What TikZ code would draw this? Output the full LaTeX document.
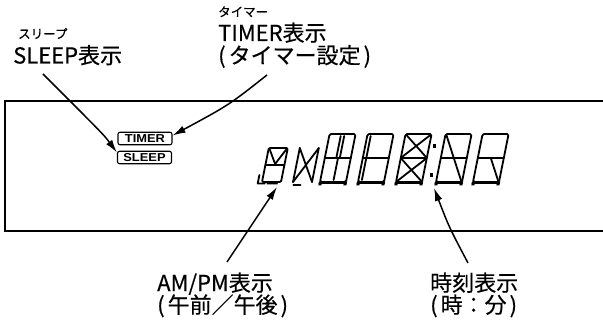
\documentclass[tikz,border=0pt]{standalone}
\usepackage{fontspec}
\setmainfont{Noto Sans CJK JP}[FakeBold=0.4]
\newfontfamily\badgefont{Liberation Sans}
\usetikzlibrary{arrows.meta}
\tikzset{
  bigframe/.pic={
    \draw[seg, rounded corners=1.5pt] (0,0) -- (0,-48) -- (26,-48) -- (26,0) -- cycle;
    \draw[seg] (0,-24) -- (26,-24);
    \fill (-1,-0.5) -- (27,-0.5) -- (27,2) -- (-1,2) -- cycle;
    \fill (-1,0) -- (2,0) -- (2,3.5) -- (-1,3.5) -- cycle;
    \fill (24,0) -- (27,0) -- (27,3.5) -- (24,3.5) -- cycle;
  },
}
\begin{document}
\begin{tikzpicture}[x=1pt,y=-1pt,
  lbl/.style={anchor=base west, inner sep=0pt, font=\fontsize{22}{24}\selectfont},
  ruby/.style={anchor=base west, inner sep=0pt, font=\fontsize{12.5}{13}\selectfont},
  badge/.style={draw, rounded corners=2pt, line width=1.1pt, minimum width=54pt, minimum height=12.5pt, inner sep=0pt, font=\badgefont\bfseries\fontsize{11.5}{11.5}\selectfont},
  arr/.style={line width=1.5pt, -{Latex[length=13pt,width=7.5pt]}},
  seg/.style={line width=1.8pt, line join=round, line cap=round},
]
\useasboundingbox (0,0) rectangle (603,326);
% frame
\draw[line width=1.4pt] (603,101) -- (5,101) -- (5,231) -- (603,231);
% badges
\node[badge] (timer) at (145,138.5) {\scalebox{1.12}[1]{TIMER}};
\node[badge] (sleep) at (144.5,157.5) {\scalebox{1.12}[1]{SLEEP}};
% labels
\node[ruby] (rsleep) at (18,38.5) {スリープ};
\node[lbl] (sleeplbl) at (13,63.5) {SLEEP表示};
\node[ruby] (rtimer) at (218,16.5) {タイマー};
\node[lbl] (timerlbl) at (218,41) {TIMER表示};
\node[lbl] (timerlbl2) at (218,63.5) {(\hspace{3pt}タイマー設定\hspace{3pt})};
\node[lbl] (amlbl) at (157,291) {AM/PM表示};
\node[lbl] (amlbl2) at (157,313) {(\hspace{3pt}午前／午後\hspace{3pt})};
\node[lbl] (timelbl) at (430,291) {時刻表示};
\node[lbl] (timelbl2) at (430,313) {(\hspace{3pt}時：分\hspace{3pt})};
% display glyphs
\begin{scope}[shift={(262,182)}, xslant=0.2]
  \draw[seg, rounded corners=1.2pt] (0,0) -- (0,-34) -- (19,-34) -- (19,0) -- cycle;
  \draw[seg] (0,-17) -- (19,-17);
  \draw[seg] (1,-33) -- (9.5,-18) -- (18,-33);
  \draw[seg] (-4,-7) -- (-4,1.5) -- (3,1.5);
  \fill (5,0) -- (16,0) -- (16,2.5) -- (5,2.5) -- cycle;
\end{scope}
\begin{scope}[shift={(293,182)}, xslant=0.2]
  \draw[seg] (0,0) -- (0,-34) (19,0) -- (19,-34);
  \draw[seg] (0,-34) -- (9.5,-17) -- (19,-34);
  \draw[seg] (0,0) -- (9.5,-17) -- (19,0);
  \draw[seg] (1,3) -- (8,3);
\end{scope}
\begin{scope}[shift={(320,182)}, xslant=0.2]
  \pic[transform shape] {bigframe};
  \draw[seg] (11.5,-46) -- (11.5,-25) (15,-46) -- (15,-25) (13.2,-23) -- (13.2,-2);
\end{scope}
\begin{scope}[shift={(358,182)}, xslant=0.2]
  \pic[transform shape] {bigframe};
  \draw[seg] (3.5,-46) -- (3.5,-2);
\end{scope}
\begin{scope}[shift={(396,182)}, xslant=0.2]
  \pic[transform shape] {bigframe};
  \draw[seg] (1,-47) -- (25,-25) (25,-47) -- (1,-25) (1,-23) -- (25,-1) (25,-23) -- (1,-1);
\end{scope}
\fill (432.5,144) rectangle +(3,4);
\fill (429.5,173) rectangle +(3,4);
\begin{scope}[shift={(436,182)}, xslant=0.2]
  \pic[transform shape] {bigframe};
  \draw[seg] (1,-47) -- (13,-24) -- (25,-1);
\end{scope}
\begin{scope}[shift={(473,182)}, xslant=0.2]
  \pic[transform shape] {bigframe};
  \draw[seg] (13,-24) -- (25,-1);
\end{scope}
% arrows
\coordinate (sleeptail) at (43,74);
\coordinate (timertail) at (267,75);
\coordinate (amtail) at (227,262);
\coordinate (amtip) at (277,187);
\coordinate (timetail) at (468,263);
\coordinate (timetip) at (434,188);
\draw[arr] (sleeptail) .. controls (104,135) .. ([yshift=5pt]sleep.west);
\draw[arr] (timertail) .. controls (229,105) .. ([yshift=3pt]timer.east);
\draw[arr] (amtail) -- (amtip);
\draw[arr] (timetail) .. controls (449,227) .. (timetip);
\end{tikzpicture}
\end{document}
